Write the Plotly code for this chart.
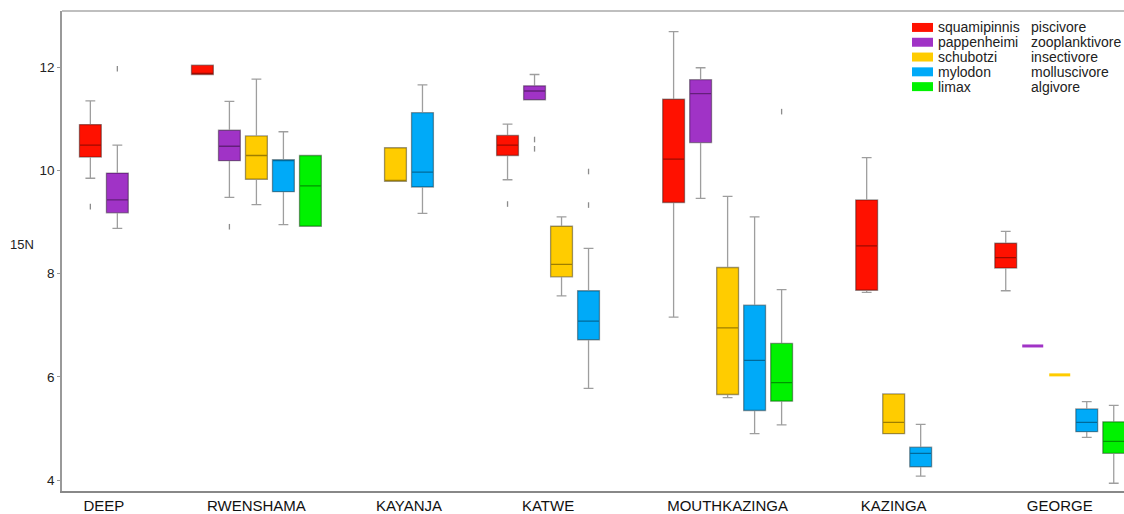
import plotly.graph_objects as go

# ---------------- data ----------------
locations = ["DEEP", "RWENSHAMA", "KAYANJA", "KATWE", "MOUTHKAZINGA", "KAZINGA", "GEORGE"]
species = ["squamipinnis", "pappenheimi", "schubotzi", "mylodon", "limax"]
diets = ["piscivore", "zooplanktivore", "insectivore", "molluscivore", "algivore"]

# per species, per location: [lowerfence, q1, median, q3, upperfence]  (None = not sampled)
squamipinnis_stats = [
    [9.85, 10.26, 10.49, 10.89, 11.35],
    [11.86, 11.86, 11.88, 12.04, 12.04],
    None,
    [9.82, 10.29, 10.49, 10.68, 10.90],
    [7.16, 9.38, 10.22, 11.38, 12.69],
    [7.64, 7.68, 8.54, 9.43, 10.25],
    [7.67, 8.11, 8.31, 8.59, 8.82],
]
pappenheimi_stats = [
    [8.88, 9.18, 9.43, 9.95, 10.49],
    [9.48, 10.19, 10.47, 10.78, 11.34],
    None,
    [11.37, 11.37, 11.54, 11.64, 11.86],
    [9.46, 10.54, 11.49, 11.76, 11.99],
    None,
    [6.60, 6.60, 6.60, 6.60, 6.60],
]
schubotzi_stats = [
    None,
    [9.34, 9.83, 10.29, 10.67, 11.77],
    [9.79, 9.79, 9.80, 10.44, 10.44],
    [7.57, 7.94, 8.18, 8.92, 9.10],
    [5.60, 5.66, 6.95, 8.12, 9.50],
    [4.90, 4.90, 5.12, 5.67, 5.67],
    [6.04, 6.04, 6.04, 6.04, 6.04],
]
mylodon_stats = [
    None,
    [8.95, 9.59, 10.20, 10.21, 10.75],
    [9.17, 9.68, 9.97, 11.12, 11.66],
    [5.78, 6.72, 7.08, 7.67, 8.49],
    [4.90, 5.35, 6.32, 7.39, 9.10],
    [4.08, 4.26, 4.52, 4.64, 5.08],
    [4.83, 4.94, 5.12, 5.38, 5.52],
]
limax_stats = [
    None,
    [8.92, 8.92, 9.70, 10.29, 10.29],
    None,
    None,
    [5.07, 5.53, 5.89, 6.65, 7.69],
    None,
    [3.94, 4.52, 4.75, 5.13, 5.45],
]
all_stats = [squamipinnis_stats, pappenheimi_stats, schubotzi_stats, mylodon_stats, limax_stats]

# outliers: per species, per location
squamipinnis_out = [[9.30], [], [], [9.35], [], [], []]
pappenheimi_out = [[11.97], [8.91], [], [10.60, 10.42], [], [], []]
schubotzi_out = [[], [], [], [], [], [], []]
mylodon_out = [[], [], [], [9.98, 9.33], [], [], []]
limax_out = [[], [], [], [], [11.14], [], []]
all_out = [squamipinnis_out, pappenheimi_out, schubotzi_out, mylodon_out, limax_out]

# ---------------- style / layout constants ----------------
colors = ["#FF1100", "#A033C6", "#FFCC00", "#00AAF8", "#00F200"]
GROUP_GAP = 2.15      # extra slots between locations
BOX_WIDTH = 0.81
FONT = "Liberation Sans, Arial, sans-serif"

FIG_W, FIG_H = 1124, 514
M_L, M_R, M_T, M_B = 62, 0, 11, 21.3
PLOT_W = FIG_W - M_L - M_R
PLOT_H = FIG_H - M_T - M_B


def px_x(px):  # page pixel -> paper x
    return (px - M_L) / PLOT_W


def px_y(py):  # page pixel -> paper y
    return (FIG_H - M_B - py) / PLOT_H


# legend geometry (page pixels)
LEG_ICON_X0, LEG_ICON_X1 = 912, 933
LEG_TEXT_X, LEG_DIET_X = 936.5, 1029.5
LEG_ROW0, LEG_ROW_STEP, LEG_ICON_H = 27.5, 14.85, 9

# layout of boxes: consecutive slots for species present at each location
positions = {}
centers = []
pos = 0.0
for li, loc in enumerate(locations):
    present = [si for si in range(len(species)) if all_stats[si][li] is not None]
    xs = []
    for si in present:
        positions[(si, li)] = pos
        xs.append(pos)
        pos += 1
    centers.append(sum(xs) / len(xs))
    pos += GROUP_GAP

fig = go.Figure()
for si, sp in enumerate(species):
    bx, q1, med, q3, lo, hi = [], [], [], [], [], []
    sx, sy = [], []
    for li in range(len(locations)):
        st = all_stats[si][li]
        if st is None:
            continue
        x = positions[(si, li)]
        if st[0] == st[4]:
            sx.append(x)
            sy.append(st[2])
            continue
        bx.append(x)
        lo.append(st[0]); q1.append(st[1]); med.append(st[2]); q3.append(st[3]); hi.append(st[4])
    fig.add_trace(go.Box(
        x=bx, q1=q1, median=med, q3=q3, lowerfence=lo, upperfence=hi,
        name=sp, orientation="v", boxpoints=False,
        fillcolor=colors[si], line=dict(color="rgba(0,0,0,0.38)", width=1.3),
        width=BOX_WIDTH, whiskerwidth=0.45, showlegend=False,
    ))
    if sx:
        fig.add_trace(go.Scatter(
            x=sx, y=sy, mode="markers", showlegend=False, name=sp,
            marker=dict(symbol="line-ew", size=15, line=dict(color=colors[si], width=3)),
        ))
    ox, oy = [], []
    for li in range(len(locations)):
        for v in all_out[si][li]:
            ox.append(positions[(si, li)])
            oy.append(v)
    if ox:
        fig.add_trace(go.Scatter(
            x=ox, y=oy, mode="markers", showlegend=False, name=sp,
            marker=dict(symbol="line-ns", size=4, line=dict(color="rgba(0,0,0,0.45)", width=1.3)),
        ))

shapes = [dict(type="line", xref="paper", yref="paper", x0=0, x1=1, y0=1, y1=1,
               line=dict(color="#aaa", width=1.5))]
annotations = [dict(text="15N", xref="paper", yref="paper", x=px_x(22), y=px_y(245),
                    xanchor="center", yanchor="middle", showarrow=False,
                    font=dict(size=13, family=FONT, color="#222"))]
for si, sp in enumerate(species):
    yc = LEG_ROW0 + LEG_ROW_STEP * si
    shapes.append(dict(type="rect", xref="paper", yref="paper",
                       x0=px_x(LEG_ICON_X0), x1=px_x(LEG_ICON_X1),
                       y0=px_y(yc + LEG_ICON_H / 2), y1=px_y(yc - LEG_ICON_H / 2),
                       fillcolor=colors[si], line=dict(width=0)))
    annotations.append(dict(text=sp, xref="paper", yref="paper", x=px_x(LEG_TEXT_X), y=px_y(yc),
                            xanchor="left", yanchor="middle", showarrow=False, borderpad=0,
                            font=dict(size=14, family=FONT, color="#222")))
    annotations.append(dict(text=diets[si], xref="paper", yref="paper", x=px_x(LEG_DIET_X), y=px_y(yc),
                            xanchor="left", yanchor="middle", showarrow=False, borderpad=0,
                            font=dict(size=14, family=FONT, color="#222")))

fig.update_layout(
    width=FIG_W, height=FIG_H,
    margin=dict(l=M_L, r=M_R, t=M_T, b=M_B, pad=0),
    paper_bgcolor="white", plot_bgcolor="white",
    font=dict(family=FONT, color="#222"),
    showlegend=False,
    xaxis=dict(range=[-1.05, 38.28], tickmode="array", tickvals=centers, ticktext=locations,
               showgrid=False, zeroline=False, showline=True, linecolor="#888", linewidth=1.5,
               ticks="", tickfont=dict(size=15, color="#111")),
    yaxis=dict(range=[3.79, 13.09], tickmode="array", tickvals=[4, 6, 8, 10, 12],
               showgrid=False, zeroline=False, showline=True, linecolor="#999", linewidth=1.5,
               ticks="outside", ticklen=3, tickcolor="#999", tickfont=dict(size=13.5, color="#222")),
    shapes=shapes,
    annotations=annotations,
)

fig.write_html("out.html", config={"displayModeBar": False},
               post_script="document.body.style.margin='0';document.body.style.overflow='hidden';")
